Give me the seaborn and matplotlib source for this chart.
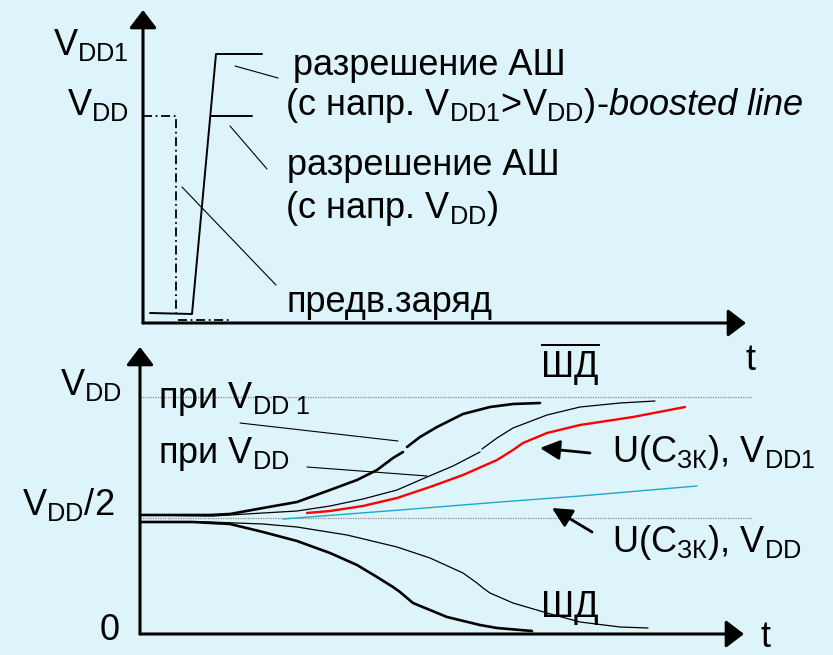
import matplotlib.pyplot as plt
import numpy as np
import pandas as pd
import seaborn as sns

# Diagram units are the pixel grid of the original sketch (x right, y down).

# ---- top sketch: pre-charge and word-line enable
top_origin = [143, 323]
top_y_tip = [143, 10]
top_x_tip = [746, 323]

pre_x = [143, 176, 176]
pre_y = [116, 116, 314]
pre_foot_x = [178, 230]
pre_foot_y = [320, 320]

en_x = [150, 192, 216, 262]
en_y = [313, 314, 54, 54]
en_vdd_x = [211, 252]
en_vdd_y = [116, 116]

top_lead_x = [[235, 278], [230, 267], [182, 276]]
top_lead_y = [[66, 78], [126, 169], [187, 285]]

# ---- bottom sketch: bit-line voltages
bot_origin = [140, 634]
bot_y_tip = [140, 347]
bot_x_tip = [744, 634]
ref_x = [140, 752]
ref_levels = [397, 518]

# thick = at V_DD1, thin = at V_DD
up_thick_x = [[140, 210, 230, 263, 297, 330, 357, 377, 393, 403],
              [407, 420, 437, 463, 490, 513, 540]]
up_thick_y = [[515, 515, 514, 508, 502, 490, 480, 470, 458, 452],
              [447, 437, 427, 414, 407, 404, 403]]
up_thin_x = [[140, 213, 263, 297, 330, 363, 397, 427, 453, 480],
             [482, 497, 513, 547, 580, 620, 655]]
up_thin_y = [[515, 516, 513, 511, 506, 499, 490, 477, 466, 452],
             [449, 438, 428, 415, 407, 403, 401]]
dn_thick_x = [140, 193, 230, 263, 297, 330, 357, 377, 393, 400, 413, 447, 480, 497, 532]
dn_thick_y = [522, 522, 524, 532, 541, 553, 565, 577, 587, 592, 603, 617, 625, 628, 631]
dn_thin_x = [195, 210, 263, 297, 347, 397, 430, 463, 477, 483, 490, 513, 547, 580, 620, 648]
dn_thin_y = [522, 522, 524, 527, 535, 547, 558, 573, 583, 588, 593, 603, 613, 622, 627, 628]

cap_vdd1_x = [307, 330, 363, 397, 430, 463, 497, 513, 523, 547, 580, 633, 685]
cap_vdd1_y = [513, 511, 506, 498, 487, 475, 460, 450, 443, 433, 425, 417, 407]
cap_vdd_x = [283, 400, 500, 580, 697]
cap_vdd_y = [519, 510, 502, 496, 486]

bot_lead_x = [[240, 398], [307, 427]]
bot_lead_y = [[423, 441], [467, 476]]
ptr_from = [[590, 453], [592, 532]]
ptr_to = [[540, 448], [552, 508]]

labels = [
    (53, 55, r'V$_{\mathrm{DD1}}$'),
    (67, 115, r'V$_{\mathrm{DD}}$'),
    (293, 75, 'разрешение АШ'),
    (285, 115, r'(с напр. V$_{\mathrm{DD1}}$>V$_{\mathrm{DD}}$)-$\mathit{boosted\ line}$'),
    (287, 175, 'разрешение АШ'),
    (285, 218, r'(с напр. V$_{\mathrm{DD}}$)'),
    (287, 312, 'предв.заряд'),
    (540, 378, r'$\overline{\mathrm{ШД}}$'),
    (746, 370, 't'),
    (60, 395, r'V$_{\mathrm{DD}}$'),
    (158, 408, r'при V$_{\mathrm{DD\ 1}}$'),
    (158, 463, r'при V$_{\mathrm{DD}}$'),
    (22, 515, r'V$_{\mathrm{DD}}$/2'),
    (100, 640, '0'),
    (612, 462, r'U(C$_{\mathrm{ЗК}}$), V$_{\mathrm{DD1}}$'),
    (612, 552, r'U(C$_{\mathrm{ЗК}}$), V$_{\mathrm{DD}}$'),
    (541, 617, 'ШД'),
    (761, 647, 't'),
]

sns.set_style('white')
plt.rcParams['font.family'] = ['Liberation Sans', 'DejaVu Sans']
plt.rcParams['mathtext.fontset'] = 'custom'
plt.rcParams['mathtext.rm'] = 'Liberation Sans'
plt.rcParams['mathtext.it'] = 'Liberation Sans:italic'
plt.rcParams['mathtext.bf'] = 'Liberation Sans:bold'

bg = '#DDF4FA'
fig = plt.figure(figsize=(8.33, 6.55), dpi=100, facecolor=bg)
ax = fig.add_axes([0, 0, 1, 1])
ax.set_facecolor(bg)
ax.set_xlim(0, 833)
ax.set_ylim(655, 0)
ax.axis('off')


def line(x, y, **kw):
    df = pd.DataFrame({'x': x, 'y': y})
    sns.lineplot(data=df, x='x', y='y', sort=False, estimator=None, ax=ax, **kw)


def axis_arrow(origin, tip):
    ax.annotate('', xy=tip, xytext=origin,
                arrowprops=dict(arrowstyle='-|>,head_length=0.55,head_width=0.42',
                                lw=2.2, color='black', shrinkA=0, shrinkB=0,
                                mutation_scale=20))


# Reference levels (dotted)
for lvl in ref_levels:
    line(ref_x, [lvl, lvl], color='#8a8a8a', lw=0.9, linestyle=(0, (1, 1)))

# Axes with arrows
axis_arrow(top_origin, top_y_tip)
axis_arrow(top_origin, top_x_tip)
axis_arrow(bot_origin, bot_y_tip)
axis_arrow(bot_origin, bot_x_tip)

# Top sketch
line(pre_x, pre_y, color='black', lw=1.3, linestyle=(0, (5, 2, 1, 2)))
line(pre_foot_x, pre_foot_y, color='black', lw=1.3, linestyle=(0, (5, 2, 1, 2)))
line(en_x, en_y, color='black', lw=1.4)
line(en_vdd_x, en_vdd_y, color='black', lw=1.4)
for lx, ly in zip(top_lead_x, top_lead_y):
    line(lx, ly, color='black', lw=0.8)

# Bottom sketch
for xs, ys in zip(up_thick_x, up_thick_y):
    line(xs, ys, color='black', lw=1.9)
line(dn_thick_x, dn_thick_y, color='black', lw=1.9)
for xs, ys in zip(up_thin_x, up_thin_y):
    line(xs, ys, color='black', lw=0.9)
line(dn_thin_x, dn_thin_y, color='black', lw=0.9)
line(cap_vdd1_x, cap_vdd1_y, color='#FF0000', lw=1.7)
line(cap_vdd_x, cap_vdd_y, color='#1BA8CC', lw=1.0)
for lx, ly in zip(bot_lead_x, bot_lead_y):
    line(lx, ly, color='black', lw=0.8)
for p0, p1 in zip(ptr_from, ptr_to):
    ax.annotate('', xy=p1, xytext=p0,
                arrowprops=dict(arrowstyle='-|>,head_length=0.6,head_width=0.3',
                                lw=2.0, color='black', shrinkA=0, shrinkB=0,
                                mutation_scale=20))

for x, y, s in labels:
    ax.text(x, y, s, fontsize=26, color='black', ha='left', va='baseline')

ax.set_xlabel('')
ax.set_ylabel('')
fig.savefig('out.png', dpi=100, facecolor=bg)
